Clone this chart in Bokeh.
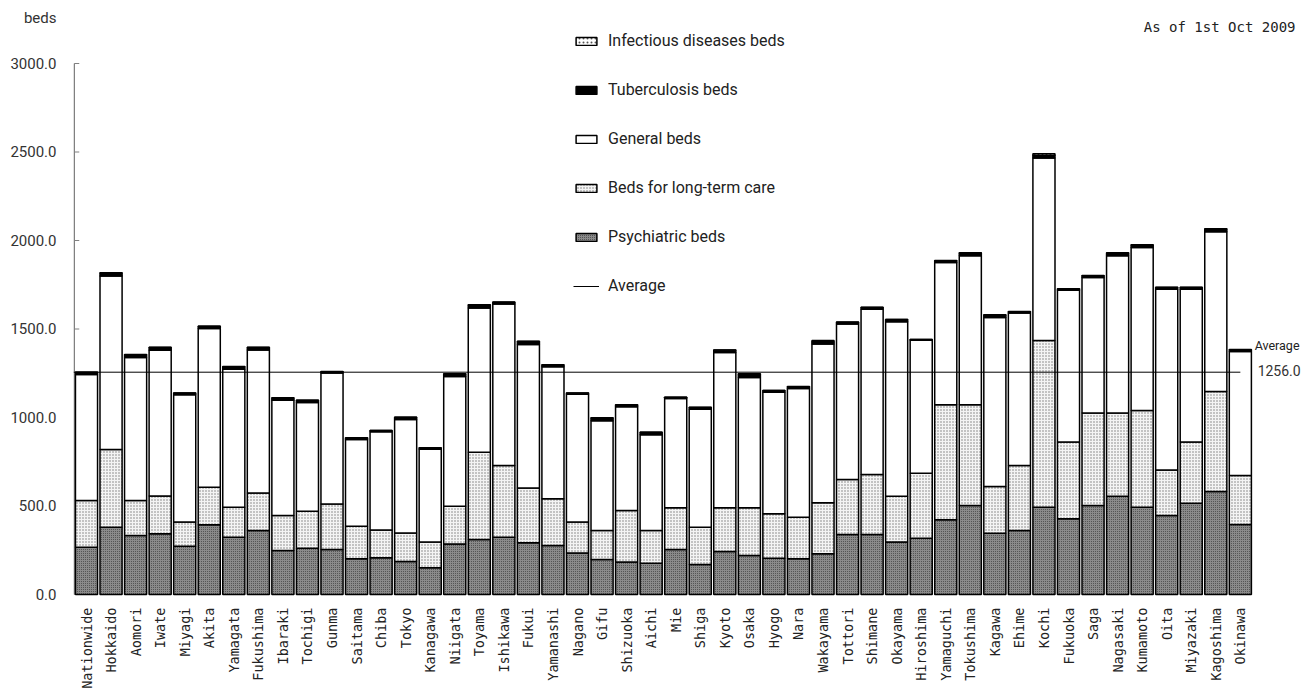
import math
import numpy as np
from bokeh.plotting import figure
from bokeh.models import Range1d, Legend, LegendItem, Label, FixedTicker, NumeralTickFormatter
from bokeh.core.properties import value
from bokeh.embed import file_html
from bokeh.resources import INLINE

categories = ["Nationwide", "Hokkaido", "Aomori", "Iwate", "Miyagi", "Akita", "Yamagata", "Fukushima",
              "Ibaraki", "Tochigi", "Gunma", "Saitama", "Chiba", "Tokyo", "Kanagawa", "Niigata",
              "Toyama", "Ishikawa", "Fukui", "Yamanashi", "Nagano", "Gifu", "Shizuoka", "Aichi",
              "Mie", "Shiga", "Kyoto", "Osaka", "Hyogo", "Nara", "Wakayama", "Tottori",
              "Shimane", "Okayama", "Hiroshima", "Yamaguchi", "Tokushima", "Kagawa", "Ehime", "Kochi",
              "Fukuoka", "Saga", "Nagasaki", "Kumamoto", "Oita", "Miyazaki", "Kagoshima", "Okinawa"]

psychiatric = [267, 380, 333, 343, 273, 394, 324, 362,
               249, 262, 254, 202, 207, 186, 151, 286,
               311, 324, 292, 277, 235, 198, 183, 177,
               254, 170, 243, 220, 205, 202, 230, 339,
               339, 296, 318, 422, 503, 346, 362, 493,
               428, 503, 555, 493, 446, 516, 582, 396]

long_term_care = [264, 439, 198, 213, 136, 212, 169, 212,
                  197, 209, 258, 184, 158, 162, 145, 213,
                  493, 405, 309, 264, 174, 164, 292, 185,
                  236, 210, 247, 270, 251, 235, 288, 311,
                  339, 259, 367, 650, 569, 264, 367, 942,
                  433, 523, 471, 547, 258, 345, 565, 276]

general = [712, 980, 808, 824, 719, 897, 780, 808,
           652, 614, 740, 490, 554, 641, 525, 733,
           814, 912, 811, 746, 722, 619, 586, 540,
           617, 667, 877, 736, 686, 727, 897, 878,
           934, 986, 752, 804, 842, 955, 861, 1031,
           858, 765, 888, 921, 1021, 864, 902, 701]

tuberculosis = [12, 18, 16, 16, 10, 12, 14, 14,
                12, 12, 7, 8, 7, 12, 7, 14,
                18, 10, 18, 10, 7, 16, 10, 14,
                7, 10, 14, 20, 10, 10, 12, 10,
                10, 12, 3, 10, 16, 14, 8, 14,
                7, 10, 16, 14, 10, 10, 16, 10]

infectious = [1, 1, 1, 1, 1, 1, 1, 1,
              1, 1, 1, 1, 1, 1, 1, 1,
              1, 1, 1, 1, 1, 1, 1, 1,
              1, 1, 1, 1, 1, 1, 8, 1,
              1, 1, 1, 1, 1, 1, 1, 10,
              1, 1, 1, 1, 1, 1, 1, 1]

average_value = 1256.0
y_ticks = [0, 500, 1000, 1500, 2000, 2500, 3000]
y_unit = "beds"
date_note = "As of 1st Oct 2009"

n = len(categories)
xs = list(range(n))
s0 = np.zeros(n)
s1 = s0 + np.array(psychiatric)
s2 = s1 + np.array(long_term_care)
s3 = s2 + np.array(general)
s4 = s3 + np.array(tuberculosis)
s5 = s4 + np.array(infectious)

# layout geometry (pixels)
W, H = 1301, 690
frame_left = 73
first_center = 86
px_per_cat = 24.55
zero_px = 594
top_tick_px = 63
beds_per_px = (y_ticks[-1] - y_ticks[0]) / (zero_px - top_tick_px)
x_lo = -(first_center - frame_left) / px_per_cat
x_hi = x_lo + (W - frame_left) / px_per_cat
y_lo = -(H - zero_px) * beds_per_px
y_hi = zero_px * beds_per_px
unit_tick = (zero_px - 17) * beds_per_px   # where the "beds" unit label sits

p = figure(width=W, height=H, x_range=Range1d(x_lo, x_hi), y_range=Range1d(y_lo, y_hi),
           output_backend="svg", toolbar_location=None, x_axis_location=None,
           min_border_left=frame_left, min_border_right=0, min_border_top=0, min_border_bottom=0)
p.outline_line_color = None
p.grid.visible = False
p.background_fill_color = "white"

ya = p.yaxis[0]
ya.ticker = FixedTicker(ticks=y_ticks + [unit_tick])
ya.formatter = NumeralTickFormatter(format="0.0")
ya.major_label_overrides = {unit_tick: y_unit}
ya.major_tick_in = 0
ya.major_tick_out = 0
ya.minor_tick_in = 0
ya.minor_tick_out = 0
ya.axis_line_color = None
ya.major_tick_line_color = None
ya.major_label_text_font = "Roboto"
ya.major_label_text_font_size = "15px"
ya.major_label_text_color = "#333333"
ya.major_label_standoff = 17

# axis line and inward ticks, bounded to the tick range
axis_x = x_lo + 0.75 / px_per_cat
p.segment(x0=[axis_x], y0=[y_ticks[0]], x1=[axis_x], y1=[y_ticks[-1]], line_color="#808080", line_width=1.5)
p.segment(x0=[axis_x] * len(y_ticks), y0=y_ticks, x1=[axis_x + 5 / px_per_cat] * len(y_ticks), y1=y_ticks,
          line_color="#808080", line_width=1.2)

bw = 0.9
lw = 1.5
r_psy = p.vbar(x=xs, bottom=s0, top=s1, width=bw, fill_color="#8a8a8a", line_color="black", line_width=lw,
               hatch_pattern="dot", hatch_color="#444444", hatch_scale=2, hatch_weight=1)
r_ltc = p.vbar(x=xs, bottom=s1, top=s2, width=bw, fill_color="#f4f4f4", line_color="black", line_width=lw,
               hatch_pattern="dot", hatch_color="#7a7a7a", hatch_scale=3, hatch_weight=1)
r_gen = p.vbar(x=xs, bottom=s2, top=s3, width=bw, fill_color="white", line_color="black", line_width=lw)
r_tb = p.vbar(x=xs, bottom=s3, top=s4, width=bw, fill_color="black", line_color="black", line_width=lw)
r_inf = p.vbar(x=xs, bottom=s4, top=s5, width=bw, fill_color="white", line_color="black", line_width=lw,
               hatch_pattern="dot", hatch_color="#555555", hatch_scale=4, hatch_weight=1)

r_avg = p.segment(x0=[x_lo], y0=[average_value], x1=[n - 1], y1=[average_value],
                  line_color="black", line_width=1)

p.text(x=xs, y=[0] * n, text=categories, angle=math.pi / 2, text_align="right", text_baseline="middle",
       y_offset=13, text_font=value("DejaVu Sans Mono"), text_font_size="13.5px", text_color="#222222")

p.add_layout(Label(x=n - 0.5, y=average_value, text="Average", x_offset=2, y_offset=27,
                   text_baseline="middle", text_font="Roboto", text_font_size="12.5px",
                   text_color="#222222"))
p.add_layout(Label(x=n - 0.5, y=average_value, text=f"{average_value:.1f}", x_offset=5, y_offset=2,
                   text_baseline="middle", text_font="Roboto", text_font_size="14px",
                   text_color="#333333"))
p.add_layout(Label(x=1295 - frame_left, y=H - 26, x_units="screen", y_units="screen",
                   text=date_note, text_align="right", text_baseline="middle",
                   text_font="DejaVu Sans Mono", text_font_size="14px", text_color="#222222"))

legend = Legend(items=[
    LegendItem(label="Infectious diseases beds", renderers=[r_inf]),
    LegendItem(label="Tuberculosis beds", renderers=[r_tb]),
    LegendItem(label="General beds", renderers=[r_gen]),
    LegendItem(label="Beds for long-term care", renderers=[r_ltc]),
    LegendItem(label="Psychiatric beds", renderers=[r_psy]),
    LegendItem(label="Average", renderers=[r_avg]),
], location=(500, 394), glyph_width=26, glyph_height=10, label_height=21, label_standoff=9, spacing=28,
    padding=0, margin=0, border_line_color=None, background_fill_alpha=0,
    label_text_font="Roboto", label_text_font_size="16px", label_text_color="#222222")
p.add_layout(legend)

open("out.html", "w").write(file_html(p, INLINE))
